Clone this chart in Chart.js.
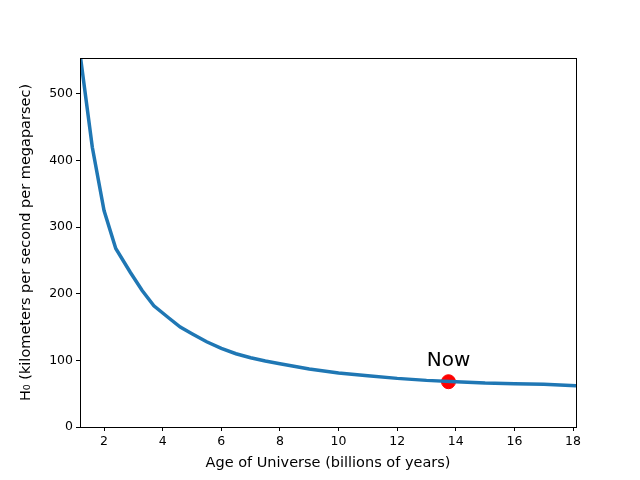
<!DOCTYPE html>
<html>
<head>
<script src="https://cdn.jsdelivr.net/npm/chart.js@4"></script>
<style>body{margin:0;background:#fff}#wrap{width:640px;height:480px}</style>
</head>
<body>
<div id="wrap"><canvas id="c" width="640" height="480"></canvas></div>
<script>
const ageX = [1.2,1.6,2.0,2.4,2.9,3.3,3.7,4.2,4.6,5.0,5.5,6,6.5,7,7.5,8,9,10,11,12,13,14,15,16,17,18.1];
const hubbleY = [554,420,325,268,232,205,182,164,150,140,128,118,110,104,99,95,87,81,77,73,70,68,66,65,64,62];
const nowX = 13.75, nowY = 68, nowLabel = 'Now';

const frame = {
  id: 'frame',
  afterDraw(chart) {
    const { ctx, chartArea: a, scales } = chart;
    ctx.save();
    ctx.strokeStyle = '#000'; ctx.lineWidth = 1;
    ctx.strokeRect(a.left + 0.5, a.top + 0.5, a.right - a.left, a.bottom - a.top);
    ctx.fillStyle = '#000';
    ctx.font = '20px "DejaVu Sans"';
    ctx.textAlign = 'center'; ctx.textBaseline = 'alphabetic';
    ctx.fillText(nowLabel, scales.x.getPixelForValue(nowX), scales.y.getPixelForValue(nowY) - 16);
    ctx.restore();
  }
};

const tickFont = { family: 'DejaVu Sans', size: 12.5 };
new Chart(document.getElementById('c'), {
  type: 'line',
  data: {
    datasets: [
      { data: ageX.map((x, i) => ({ x, y: hubbleY[i] })), borderColor: '#1f77b4', borderWidth: 3.5, pointRadius: 0, tension: 0 },
      { data: [{ x: nowX, y: nowY }], showLine: false, pointRadius: 7, backgroundColor: '#ff0000', borderColor: '#ff0000' }
    ]
  },
  options: {
    responsive: false, animation: false,
    layout: { padding: { top: 58, right: 64, left: 18, bottom: 8 } },
    plugins: { legend: { display: false }, tooltip: { enabled: false } },
    scales: {
      x: {
        type: 'linear', min: 1.18, max: 18.1,
        afterBuildTicks: s => { s.ticks = [2,4,6,8,10,12,14,16,18].map(v => ({ value: v })); },
        afterFit: s => { s.height = 45; },
        grid: { drawOnChartArea: false, color: '#000', tickLength: 4 },
        border: { color: '#000' },
        ticks: { color: '#000', font: tickFont, padding: 3 },
        title: { display: true, text: 'Age of Universe (billions of years)', color: '#000', font: { family: 'DejaVu Sans', size: 14.5 }, padding: 0 }
      },
      y: {
        min: 0, max: 554,
        afterBuildTicks: s => { s.ticks = [0,100,200,300,400,500].map(v => ({ value: v })); },
        afterFit: s => { s.width = 62; },
        grid: { drawOnChartArea: false, color: '#000', tickLength: 4 },
        border: { color: '#000' },
        ticks: { color: '#000', font: tickFont, padding: 3 },
        title: { display: true, text: 'H₀ (kilometers per second per megaparsec)', color: '#000', font: { family: 'DejaVu Sans', size: 14.5 }, padding: 0 }
      }
    }
  },
  plugins: [frame]
});
</script>
</body>
</html>
